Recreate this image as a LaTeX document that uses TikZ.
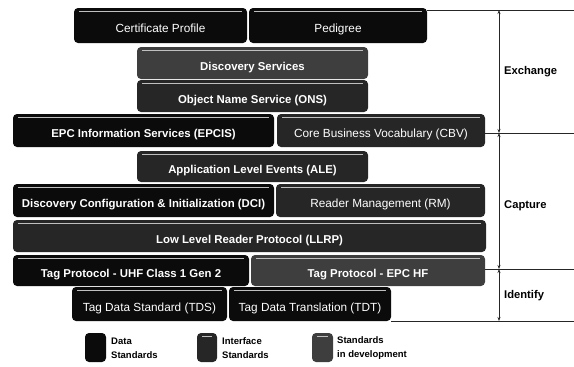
\documentclass[tikz,border=0pt]{standalone}
\usepackage{fontspec}
\setmainfont{Liberation Sans}
\usetikzlibrary{arrows.meta}
\definecolor{dstd}{HTML}{0B0B0B}
\definecolor{istd}{HTML}{262626}
\definecolor{vstd}{HTML}{3E3E3E}
\tikzset{
  stdbox/.style={rounded corners=4pt, text=white, inner sep=0pt, outer sep=0pt,
    anchor=north west, font=\fontsize{11.8}{13}\selectfont,
    text height=14.5pt, text depth=0pt,
    path picture={\draw[draw=gray!50, line width=0.7pt]
      ([xshift=5pt,yshift=-3pt]path picture bounding box.north west) --
      ([xshift=-5pt,yshift=-3pt]path picture bounding box.north east);}},
  databox/.style={stdbox, fill=dstd},
  ifbox/.style={stdbox, fill=istd},
  devbox/.style={stdbox, fill=vstd},
  bf/.style={font=\fontsize{11.4}{13}\selectfont\bfseries},
  sz/.style n args={2}{minimum width=#1pt, minimum height=#2pt},
  legtext/.style={anchor=west, align=left, font=\fontsize{9.5}{14}\selectfont\bfseries, inner sep=0pt},
  sidelab/.style={anchor=west, font=\fontsize{11.2}{13}\selectfont\bfseries, inner sep=0pt},
  rule/.style={draw=black!85, line width=0.8pt},
  span/.style={draw=black!85, line width=0.6pt, {Stealth[length=4pt,width=3pt]}-{Stealth[length=4pt,width=3pt]}}
}
\begin{document}
\begin{tikzpicture}[x=1pt,y=-1pt]
\useasboundingbox (0,0) rectangle (574,367);
% stack
\node[databox, sz={173}{35}] (cert) at (74,8) {Certificate Profile};
\node[databox, sz={178}{35}] (ped) at (249,8) {Pedigree};
\node[devbox, bf, sz={231}{32}] (disc) at (137,47) {Discovery Services};
\node[ifbox, bf, sz={231}{32}] (ons) at (137,80) {Object Name Service (ONS)};
\node[databox, bf, sz={261}{33}] (epcis) at (13,114) {EPC Information Services (EPCIS)};
\node[ifbox, sz={208}{33}] (cbv) at (277,114) {Core Business Vocabulary (CBV)};
\node[ifbox, bf, sz={231}{31}] (ale) at (137,151) {Application Level Events (ALE)};
\node[databox, bf, sz={261}{33}] (dci) at (13,184) {Discovery Configuration \& Initialization (DCI)};
\node[ifbox, sz={209}{33}] (rm) at (276,184) {Reader Management (RM)};
\node[ifbox, bf, sz={473}{32}] (llrp) at (13,220) {Low Level Reader Protocol (LLRP)};
\node[databox, bf, sz={236}{31}] (uhf) at (13,255) {Tag Protocol - UHF Class 1 Gen 2};
\node[devbox, bf, sz={234}{31}] (hf) at (251,255) {Tag Protocol - EPC HF};
\node[databox, sz={155}{34}] (tds) at (72,287) {Tag Data Standard (TDS)};
\node[databox, sz={162}{34}] (tdt) at (229,287) {Tag Data Translation (TDT)};
% legend
\node[databox, sz={21}{29}, path picture={}] (lgd) at (85,333) {};
\node[legtext] (lgdt) at (111,348) {Data\\Standards};
\node[ifbox, sz={20}{29}] (lgi) at (197,333) {};
\node[legtext] (lgit) at (222,348) {Interface\\Standards};
\node[devbox, sz={21}{29}] (lgv) at (312,333) {};
\node[legtext] (lgvt) at (337,348) {Standards\\in development};
% side scale
\coordinate (h1a) at (427,10);  \coordinate (h1b) at (574,10);
\coordinate (h2a) at (485,133); \coordinate (h2b) at (574,133);
\coordinate (h3a) at (485,269); \coordinate (h3b) at (574,269);
\coordinate (h4a) at (391,321); \coordinate (h4b) at (574,321);
\draw[rule] (h1a) -- (h1b);
\draw[rule] (h2a) -- (h2b);
\draw[rule] (h3a) -- (h3b);
\draw[rule] (h4a) -- (h4b);
\coordinate (v1) at (499,10);
\coordinate (v2) at (499,133);
\coordinate (v3) at (499,269);
\coordinate (v4) at (499,321);
\draw[span] (v1) -- (v2);
\draw[span] (v2) -- (v3);
\draw[span] (v3) -- (v4);
\node[sidelab] (exch) at (504,72) {Exchange};
\node[sidelab] (capt) at (504,206) {Capture};
\node[sidelab] (iden) at (504,296) {Identify};
\end{tikzpicture}
\end{document}
